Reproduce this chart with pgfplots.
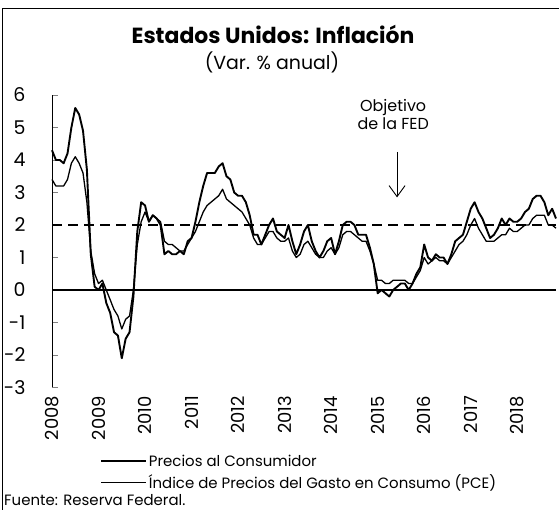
\documentclass[border=0pt]{standalone}
\usepackage{fontspec}
\setmainfont{Poppins}
\usepackage{pgfplots}
\pgfplotsset{compat=1.18}
\usepackage{pgfplotstable}
\usetikzlibrary{arrows.meta}

\pgfplotstableread{
m cpi pce
0 4.3 3.4
1 4.0 3.2
2 4.0 3.2
3 3.9 3.2
4 4.2 3.4
5 5.0 3.9
6 5.6 4.1
7 5.4 3.9
8 4.9 3.6
9 3.7 2.7
10 1.1 1.2
11 0.1 0.5
12 0.0 0.2
13 0.2 0.3
14 -0.4 0.0
15 -0.7 -0.3
16 -1.3 -0.6
17 -1.4 -0.8
18 -2.1 -1.2
19 -1.5 -0.9
20 -1.3 -0.8
21 -0.2 0.0
22 1.8 1.4
23 2.7 2.1
24 2.6 2.4
25 2.1 2.1
26 2.3 2.3
27 2.2 2.2
28 2.0 2.1
29 1.1 1.5
30 1.2 1.4
31 1.1 1.4
32 1.1 1.3
33 1.2 1.2
34 1.1 1.2
35 1.5 1.4
36 1.6 1.6
37 2.1 1.8
38 2.7 2.1
39 3.2 2.4
40 3.6 2.6
41 3.6 2.7
42 3.6 2.8
43 3.8 2.9
44 3.9 3.1
45 3.5 2.8
46 3.4 2.7
47 3.0 2.6
48 2.9 2.5
49 2.9 2.4
50 2.7 2.2
51 2.3 2.0
52 1.7 1.6
53 1.7 1.4
54 1.4 1.4
55 1.7 1.6
56 2.0 1.8
57 2.2 1.8
58 1.8 1.6
59 1.7 1.5
60 1.6 1.5
61 2.0 1.6
62 1.5 1.2
63 1.1 1.0
64 1.4 1.1
65 1.8 1.4
66 2.0 1.5
67 1.5 1.3
68 1.2 1.1
69 1.0 1.0
70 1.2 1.0
71 1.5 1.2
72 1.6 1.3
73 1.1 1.1
74 1.5 1.3
75 2.0 1.7
76 2.1 1.8
77 2.1 1.8
78 2.0 1.7
79 1.7 1.6
80 1.7 1.5
81 1.7 1.5
82 1.3 1.2
83 0.8 0.8
84 -0.1 0.3
85 0.0 0.3
86 -0.1 0.2
87 -0.2 0.2
88 0.0 0.3
89 0.1 0.3
90 0.2 0.3
91 0.2 0.3
92 0.0 0.2
93 0.2 0.2
94 0.5 0.4
95 0.7 0.6
96 1.4 1.0
97 1.0 0.8
98 0.9 0.9
99 1.1 1.0
100 1.0 0.9
101 1.0 0.9
102 0.8 0.8
103 1.1 1.0
104 1.5 1.2
105 1.6 1.4
106 1.7 1.5
107 2.1 1.7
108 2.5 2.0
109 2.7 2.2
110 2.4 1.9
111 2.2 1.7
112 1.9 1.5
113 1.6 1.5
114 1.7 1.5
115 1.9 1.6
116 2.2 1.7
117 2.0 1.7
118 2.2 1.9
119 2.1 1.8
120 2.1 1.8
121 2.2 1.9
122 2.4 2.0
123 2.5 2.0
124 2.8 2.2
125 2.9 2.3
126 2.9 2.3
127 2.7 2.3
128 2.3 2.0
129 2.5 2.0
130 2.2 1.9
}\datatable

\begin{document}
\begin{tikzpicture}[x=1bp,y=1bp]
\useasboundingbox (0,0) rectangle (559,510);
\draw[line width=0.8bp] (2.5,0) -- (2.5,502) -- (559,502);
\node[font=\fontsize{22}{26}\selectfont\bfseries] at (273,476) {Estados Unidos: Inflación};
\node[font=\fontsize{19}{22}\selectfont] at (272,448) {(Var. \% anual)};
\node[anchor=west, font=\fontsize{15}{18}\selectfont, inner sep=0pt] at (4,10) {Fuente: Reserva Federal.};
\begin{axis}[
  at={(52bp,122.5bp)}, anchor=south west,
  scale only axis, width=504bp, height=292.5bp,
  xmin=0, xmax=130, ymin=-3, ymax=6,
  axis y line*=left, axis x line*=bottom,
  x axis line style={draw=none},
  xtick style={draw=none},
  y axis line style={line width=0.8bp},
  ytick style={line width=0.8bp},
  ytick={-3,-2,-1,0,1,2,3,4,5,6},
  tick align=inside, major tick length=6bp,
  yticklabel style={font=\fontsize{19}{22}\selectfont, xshift=-23bp},
  xtick={0,12,24,36,48,60,72,84,96,108,120},
  xticklabels={2008,2009,2010,2011,2012,2013,2014,2015,2016,2017,2018},
  xticklabel style={rotate=90, anchor=east, font=\fontsize{18}{20}\selectfont, xshift=-5bp},
  /pgf/number format/assume math mode=true,
  clip=false,
  legend style={at={(0.095,0)}, anchor=north west, yshift=-65bp, draw=none, fill=none,
    font=\fontsize{15}{18}\selectfont, row sep=3bp, inner sep=0pt},
  legend cell align=left,
  legend image code/.code={\draw[#1] (0bp,0bp) -- (45bp,0bp);},
]
\addplot[black, line width=1.6bp, forget plot] coordinates {(0,0) (130,0)};
\addplot[black, line width=1.6bp, dash pattern=on 10bp off 6bp, forget plot] coordinates {(0,2) (130,2)};
\addplot[black, line width=1.9bp, line join=round] table[x=m, y=cpi] {\datatable};
\addlegendentry{Precios al Consumidor}
\addplot[black, line width=1.3bp, line join=round] table[x=m, y=pce] {\datatable};
\addlegendentry{Índice de Precios del Gasto en Consumo (PCE)}
\node[font=\fontsize{16}{19}\selectfont, align=center] at (axis cs:88,5.4) {Objetivo\\de la FED};
\draw[line width=0.9bp, -{Straight Barb[length=11bp,width=16bp]}] (axis cs:89,4.25) -- (axis cs:89,2.85);
\end{axis}
\end{tikzpicture}
\end{document}
